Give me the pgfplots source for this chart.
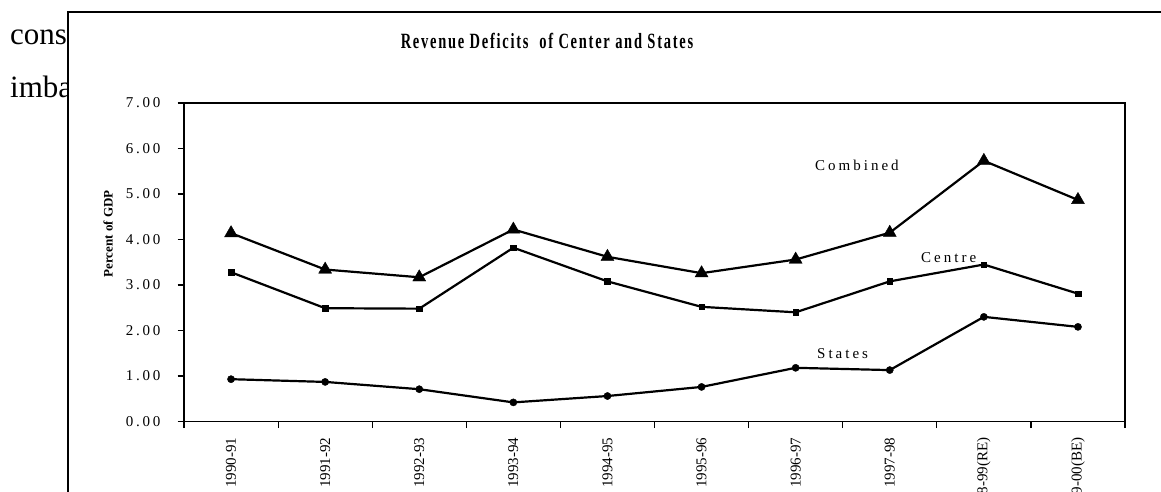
\documentclass[border=0pt]{standalone}
\usepackage{fontspec}
\setmainfont{Liberation Serif}
\newfontfamily\labelfont[LetterSpace=20]{Liberation Serif}
\newfontfamily\titlefont[LetterSpace=12]{Liberation Serif}
\usepackage{pgfplots}
\pgfplotsset{compat=1.18}

\pgfplotstableread{
x combined centre states
1 4.14 3.28 0.93
2 3.34 2.49 0.87
3 3.17 2.48 0.71
4 4.22 3.82 0.42
5 3.62 3.08 0.56
6 3.26 2.52 0.76
7 3.56 2.40 1.18
8 4.15 3.08 1.13
9 5.73 3.45 2.30
10 4.87 2.81 2.08
}\deficits

\newcommand{\ylab}[1]{{\fontsize{15}{17}\selectfont\addfontfeatures{LetterSpace=18}#1}}

\begin{document}
\begin{tikzpicture}[x=1pt,y=1pt]
\path[use as bounding box, clip] (0,0) rectangle (1161,491);
% document text behind the chart
\node[anchor=base west, inner sep=0, font=\fontsize{31}{36}\selectfont] at (10,446) {cons};
\node[anchor=base west, inner sep=0, font=\fontsize{31}{36}\selectfont] at (10,393) {imba};
% chart frame
\fill[white] (68,-20) rectangle (1200,479);
\draw[line width=2pt] (68,-20) -- (68,479) -- (1200,479);
% title
\node[anchor=base, inner sep=0] at (547,442) {\scalebox{1}[1.5]{\fontsize{14.5}{16}\titlefont\bfseries Revenue Deficits\ \ of Center and States}};
% y label
\node[rotate=90, inner sep=0, font=\fontsize{13}{15}\selectfont\bfseries] at (108,257) {Percent of GDP};

\begin{axis}[
  at={(184pt,69.5pt)}, anchor=south west,
  scale only axis, width=941pt, height=318.5pt,
  clip=false,
  xmin=0.5, xmax=10.5, ymin=0, ymax=7,
  ytick={0,1,2,3,4,5,6,7},
  yticklabels={\ylab{0.00},\ylab{1.00},\ylab{2.00},\ylab{3.00},\ylab{4.00},\ylab{5.00},\ylab{6.00},\ylab{7.00}},
  xtick={0.5,1.5,2.5,3.5,4.5,5.5,6.5,7.5,8.5,9.5,10.5},
  x tick label as interval,
  xticklabels={1990-91,1991-92,1992-93,1993-94,1994-95,1995-96,1996-97,1997-98,1998-99(RE),1999-00(BE)},
  tick align=outside, tick pos=left,
  major tick length=6.5pt,
  every tick/.style={black, line width=1.2pt},
  axis line style={black, line width=1.5pt},
  xticklabel shift=9.5pt,
  yticklabel style={anchor=east, inner sep=0pt, xshift=-17pt},
  xticklabel style={font=\fontsize{15}{17}\selectfont, rotate=90, anchor=east, inner sep=0pt},
]
\addplot[black, line width=2.2pt, mark=triangle*, mark size=7.5pt, mark options={solid, line width=0.4pt}] table[x=x, y=combined] {\deficits};
\addplot[black, line width=2.2pt, mark=square*, mark size=2.8pt, mark options={solid, line width=0.4pt}] table[x=x, y=centre] {\deficits};
\addplot[black, line width=2.2pt, mark=*, mark size=3.6pt, mark options={solid, line width=0.4pt}] table[x=x, y=states] {\deficits};
\end{axis}

% series labels
\node[anchor=base west, inner sep=0, font=\fontsize{15}{17}\labelfont] at (815,320.3) {Combined};
\node[anchor=base west, inner sep=0, font=\fontsize{15}{17}\labelfont] at (921,228.3) {Centre};
\node[anchor=base west, inner sep=0, font=\fontsize{15}{17}\labelfont] at (817,133) {States};
\end{tikzpicture}
\end{document}
